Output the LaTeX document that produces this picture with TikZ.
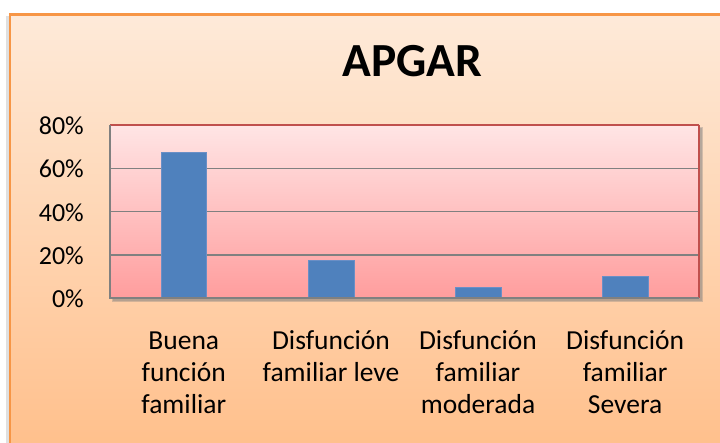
\documentclass[tikz,border=0pt]{standalone}
\usepackage{fontspec}
\setmainfont{Carlito}
\definecolor{bgtop}{HTML}{FEEAD9}
\definecolor{bgbot}{HTML}{FFC08C}
\definecolor{frameor}{HTML}{F79646}
\definecolor{pltop}{HTML}{FFE5E5}
\definecolor{plbot}{HTML}{FF9D9D}
\definecolor{plred}{HTML}{C0504D}
\definecolor{gridgray}{HTML}{808080}
\definecolor{barblue}{HTML}{4F81BD}
\definecolor{baredge}{HTML}{6A8FC6}
\tikzset{
  ticklbl/.style={anchor=base east, inner sep=0pt, font=\fontsize{26}{31}\selectfont},
  catlbl/.style={anchor=north, inner sep=0pt, align=center, font=\fontsize{27.5}{32}\selectfont},
  gridln/.style={draw=gridgray, line width=1.4pt},
  barbox/.style={fill=barblue, draw=baredge, line width=0.6pt},
}
\begin{document}
\begin{tikzpicture}[x=1pt,y=-1pt]
\useasboundingbox (0,0) rectangle (720,443);
\fill[white] (0,0) rectangle (720,443);
% left shadow of chart area
\fill[black!12] (6,16) rectangle (9,443);
% chart area background
\shade[top color=bgtop, bottom color=bgbot, draw=none] (9,14) rectangle (722,445);
\draw[frameor, line width=2.5pt] (10,450) -- (10,14.5) -- (725,14.5);
% title
\node[anchor=base, inner sep=0pt, font=\fontsize{47.5}{56}\selectfont\bfseries] (title) at (412.5,77) {APGAR};
% plot area shadow
\fill[gray, opacity=0.35] (112,127) rectangle (702.5,302);
\fill[gray, opacity=0.35] (113,128) rectangle (701.5,301);
% plot area
\shade[top color=pltop, bottom color=plbot] (110,125) rectangle (698.5,298);
\coordinate (pTL) at (110,125);
\coordinate (pTR) at (698.5,125);
\coordinate (pBL) at (110,298);
\coordinate (pBR) at (698.5,298);
% gridlines
\foreach \yy in {168.3,211.7,255} \draw[gridln] (110,\yy) -- (698.5,\yy);
% borders
\draw[plred, line width=1.5pt] (pTL) -- (pTR);
\draw[plred, line width=2pt] (pTR) -- (pBR);
\draw[gridgray, line width=1.5pt] (pTL) -- (pBL) -- (pBR);
% bars
\draw[barbox] (161,298) rectangle (206.7,152.3);
\draw[barbox] (308.3,298) rectangle (354,260.3);
\draw[barbox] (455.3,298) rectangle (501,287.3);
\draw[barbox] (602.3,298) rectangle (648.3,276);
\draw[gridgray, line width=1.5pt] (pBL) -- (pBR);
% tick labels
\node[ticklbl] (t80) at (84,134.5) {80\%};
\node[ticklbl] (t60) at (84,177.8) {60\%};
\node[ticklbl] (t40) at (84,221.2) {40\%};
\node[ticklbl] (t20) at (84,264.5) {20\%};
\node[ticklbl] (t0) at (84,307.8) {0\%};
% category labels
\node[catlbl] (c1) at (183.8,324.5) {\rule{0pt}{0.9em}Buena\\función\\familiar};
\node[catlbl] (c2) at (331,324.5) {\rule{0pt}{0.9em}Disfunción\\familiar leve};
\node[catlbl] (c3) at (478,324.5) {\rule{0pt}{0.9em}Disfunción\\familiar\\moderada};
\node[catlbl] (c4) at (625.1,324.5) {\rule{0pt}{0.9em}Disfunción\\familiar\\Severa};
\end{tikzpicture}
\end{document}
